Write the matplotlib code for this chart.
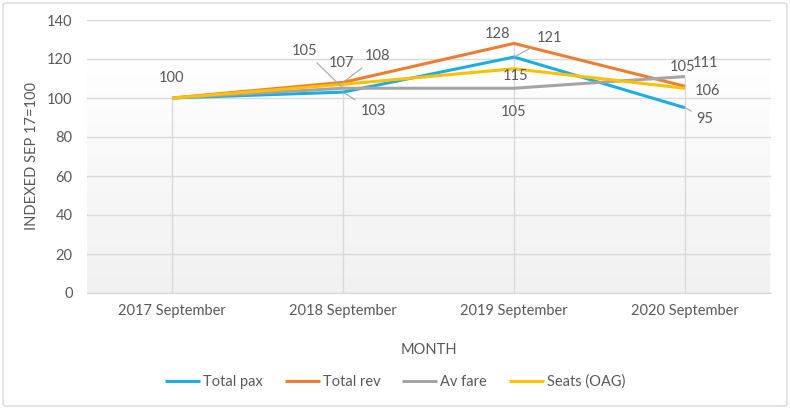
import matplotlib
matplotlib.use("Agg")
import matplotlib.pyplot as plt
import numpy as np
from matplotlib.patches import FancyBboxPatch
from matplotlib.colors import LinearSegmentedColormap

plt.rcParams['font.family'] = ['Lato', 'DejaVu Sans']

categories = ["2017 September", "2018 September", "2019 September", "2020 September"]
total_pax = [100, 103, 121, 95]
total_rev = [100, 108, 128, 106]
av_fare = [100, 105, 105, 111]
seats_oag = [100, 107, 115, 105]

series = [
    ("Total pax", total_pax, "#1CADE4"),
    ("Total rev", total_rev, "#ED7D31"),
    ("Av fare", av_fare, "#A5A5A5"),
    ("Seats (OAG)", seats_oag, "#FFC000"),
]

# label offsets in pixels (dx, dy) per series per category, and whether a leader line is drawn
label_offsets = {
    "Total pax": [None, (30, -19, True), (35, 19, True), (20, -11, True)],
    "Total rev": [None, (34, 26, True), (-17, 9, False), (22, -5, False)],
    "Av fare": [None, (-38, 37, True), (0, -24, False), (21, 14, False)],
    "Seats (OAG)": [(0, 20, False), (-1, 21, False), (2, -7, False), (-2, 21, False)],
}

FS = 10.5
W, H = 790, 409
fig = plt.figure(figsize=(W / 100, H / 100), dpi=100)
ax = fig.add_axes([86.5 / W, 1 - 293 / H, (770.5 - 86.5) / W, (293 - 20) / H])

x = np.arange(len(categories))
ax.set_xlim(-0.5, len(categories) - 0.5)
ax.set_ylim(0, 140)

# gradient background
grad = np.linspace(0, 1, 256).reshape(-1, 1)
cmap = LinearSegmentedColormap.from_list("g", ["#f1f1f1", "#ffffff"])
ax.imshow(grad, cmap=cmap, aspect="auto", extent=(-0.5, len(categories) - 0.5 - 0.006, 0, 121),
          origin="lower", zorder=0)

ax.set_yticks(np.arange(0, 141, 20))
ax.grid(axis="y", color="#d9d9d9", linewidth=1, zorder=1)
ax.set_axisbelow(True)

# drop lines
tops = [max(s[1][i] for s in series) for i in range(len(categories))]
ax.vlines(x, 0, tops, color="#d9d9d9", linewidth=1, zorder=1.5)

for name, vals, col in series:
    ax.plot(x, vals, color=col, linewidth=2.2, label=name, zorder=3, solid_capstyle="butt")

for name, vals, col in series:
    for i, v in enumerate(vals):
        off = label_offsets[name][i]
        if off is None:
            continue
        dx, dy, leader = off
        kw = {}
        if leader:
            kw["arrowprops"] = dict(arrowstyle="-", color="#a6a6a6", linewidth=0.8,
                                    shrinkA=2, shrinkB=0)
        ax.annotate(str(v), xy=(i, v), xytext=(dx, dy), textcoords="offset pixels",
                    ha="center", va="center", fontsize=FS, color="#595959", zorder=4, **kw)

ax.set_xticks(x)
ax.set_xticklabels(categories)
ax.tick_params(axis="both", length=0, labelsize=FS, labelcolor="#595959", pad=8)
ax.tick_params(axis="y", pad=10)
for sp in ["top", "right", "left"]:
    ax.spines[sp].set_visible(False)
ax.spines["bottom"].set_color("#d9d9d9")

ax.set_xlabel("MONTH", fontsize=FS, color="#595959", labelpad=18)
ax.set_ylabel("INDEXED SEP 17=100", fontsize=FS, color="#595959", labelpad=6)

leg = fig.legend(loc="center", bbox_to_anchor=(0.5, 1 - 382 / H), ncol=4, frameon=False,
                 fontsize=FS, handlelength=2.4, handletextpad=0.2, columnspacing=1.5)
for t in leg.get_texts():
    t.set_color("#595959")

border = FancyBboxPatch((3 / W, 3 / H), (W - 6) / W, (H - 6) / H, boxstyle="round,pad=0,rounding_size=0.005",
                        transform=fig.transFigure, fill=False, edgecolor="#d9d9d9", linewidth=1)
fig.patches.append(border)

fig.savefig("out.png", dpi=100)
